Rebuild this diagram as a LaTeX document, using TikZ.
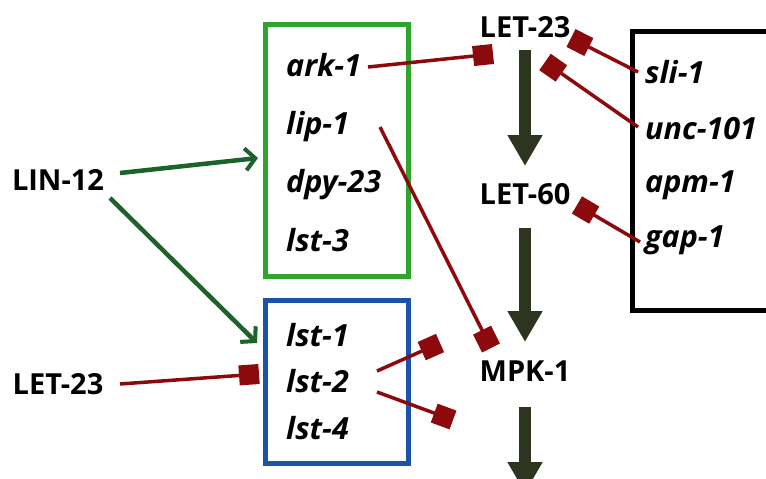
\documentclass[tikz,border=0pt]{standalone}
\usepackage{fontspec}
\setmainfont{Open Sans}
\usetikzlibrary{arrows.meta}
\definecolor{inhred}{RGB}{140,10,12}
\definecolor{actgreen}{RGB}{28,98,42}
\definecolor{boxgreen}{RGB}{48,165,45}
\definecolor{boxblue}{RGB}{26,84,166}
\definecolor{olive}{RGB}{46,53,31}
\tikzset{
  prot/.style={inner sep=0pt, font=\fontsize{29}{33}\selectfont\bfseries},
  gene/.style={inner sep=0pt, anchor=west, font=\fontsize{30.5}{34}\selectfont\bfseries\itshape},
  inh/.style={draw=inhred, line width=3.5pt, -{Square[length=20pt,width=20pt]}, inhred},
  act/.style={draw=actgreen, line width=4.5pt, -{Straight Barb[length=10pt,width=22pt,line width=4pt]}},
  bigarrow/.style={draw=olive, fill=olive, line width=12pt, -{Triangle[length=31pt,width=33pt]}},
  grp/.style={line width=5pt}
}
\begin{document}
\begin{tikzpicture}[x=1pt,y=-1pt]
\clip (0,0) rectangle (766,479);
\fill[white] (0,0) rectangle (766,479);
% boxes
\draw[grp, draw=boxgreen] (265,24) rectangle (408,276);
\draw[grp, draw=boxblue] (265,300) rectangle (408,463);
\draw[grp, draw=black] (632,31) rectangle (790,310);
% protein nodes
\node[prot] (lin12) at (58,180) {LIN-12};
\node[prot] (let23l) at (58,384) {LET-23};
\node[prot] (let23t) at (525,27) {LET-23};
\node[prot] (let60) at (525,194) {LET-60};
\node[prot] (mpk1) at (525,371) {MPK-1};
% genes green box
\node[gene] (ark1) at (286,65) {ark-1};
\node[gene] (lip1) at (286,127) {lip-1};
\node[gene] (dpy23) at (286,185) {dpy-23};
\node[gene] (lst3) at (286,240) {lst-3};
% genes blue box
\node[gene] (lst1) at (286,335) {lst-1};
\node[gene] (lst2) at (286,381) {lst-2};
\node[gene] (lst4) at (286,428) {lst-4};
% genes black box
\node[gene] (sli1) at (645,72) {sli-1};
\node[gene] (unc101) at (645,129) {unc-101};
\node[gene] (apm1) at (645,185) {apm-1};
\node[gene] (gap1) at (645,240) {gap-1};
% big arrows
\coordinate (down) at (525,493);
\draw[bigarrow, shorten <=23pt, shorten >=28pt] (let23t.center) -- (let60.center);
\draw[bigarrow, shorten <=34pt, shorten >=29pt] (let60.center) -- (mpk1.center);
\draw[bigarrow, shorten <=36pt] (mpk1.center) -- (down);
% activation arrows
\coordinate (lin12a) at (120,173);
\coordinate (lin12b) at (110,198);
\coordinate (gboxin) at (258,158);
\coordinate (bboxin) at (257,343);
\draw[act] (lin12a) -- (gboxin);
\draw[act] (lin12b) -- (bboxin);
% inhibitions
\coordinate (s1) at (368,67);   \coordinate (t1) at (493,54);
\coordinate (s2) at (638,72);   \coordinate (t2) at (571,38);
\coordinate (s3) at (638,127);  \coordinate (t3) at (545,62);
\coordinate (s4) at (640,242);  \coordinate (t4) at (577,205);
\coordinate (s5) at (380,127);  \coordinate (t5) at (491,348);
\coordinate (s6) at (377,371);  \coordinate (t6) at (440,343);
\coordinate (s7) at (377,392);  \coordinate (t7) at (453,420);
\coordinate (s8) at (120,384);  \coordinate (t8) at (259,374);
\draw[inh] (s1) -- (t1);
\draw[inh] (s2) -- (t2);
\draw[inh] (s3) -- (t3);
\draw[inh] (s4) -- (t4);
\draw[inh] (s5) -- (t5);
\draw[inh] (s6) -- (t6);
\draw[inh] (s7) -- (t7);
\draw[inh] (s8) -- (t8);
\end{tikzpicture}
\end{document}
